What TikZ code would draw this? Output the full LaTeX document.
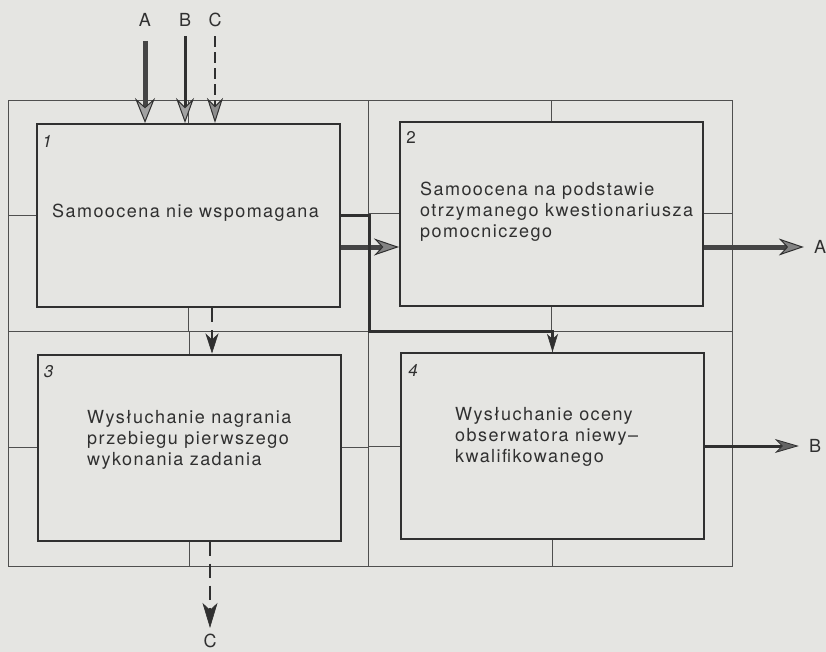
\documentclass[tikz,border=0pt]{standalone}
\usepackage{fontspec}
\setmainfont{TeX Gyre Heros}[LetterSpace=8]
\usetikzlibrary{arrows.meta}

\definecolor{paper}{RGB}{229,229,226}
\definecolor{ink}{RGB}{48,48,48}

\begin{document}
\begin{tikzpicture}[x=1pt,y=-1pt,
  frame/.style={draw=ink!85, line width=1pt},
  stepbox/.style={draw=ink, line width=2pt, minimum width=303pt,
    minimum height=183pt, inner sep=0pt},
  body/.style={align=left, anchor=west, text=ink, inner sep=0pt,
    font=\fontsize{18}{21}\selectfont},
  num/.style={text=ink, inner sep=0pt, font=\fontsize{17}{17}\selectfont},
  lbl/.style={text=ink, inner sep=2pt, font=\fontsize{18}{18}\selectfont},
  heavy/.style={line width=5pt, draw=ink!90,
    -{Stealth[length=25pt, width=17pt, inset=8pt, line width=1pt, color=ink, fill=ink!60]}},
  medium/.style={line width=3pt, draw=ink,
    -{Stealth[length=24pt, width=14pt, inset=7pt, line width=0.8pt, color=ink, fill=ink!75]}},
  dflow/.style={line width=2.5pt, draw=ink, dash pattern=on 14pt off 8pt,
    -{Stealth[length=20pt, width=13pt, inset=6pt, line width=0.6pt, color=ink, fill=ink]}},
]
% sheet
\fill[paper] (0,0) rectangle (826,652);
\useasboundingbox (0,0) rectangle (826,652);

% outer 2x2 frame: left/middle/right columns, top/middle/bottom rows
\coordinate (fL) at (8,101);
\coordinate (fM) at (368,331);
\coordinate (fR) at (732,566);
\draw[frame] (fL) rectangle (fR);
\draw[frame] (fM |- fL) -- (fM |- fR);
\draw[frame] (fL |- fM) -- (fR |- fM);

% the four steps
\node[stepbox] (b1) at (188.5,215.5) {};
\node[stepbox] (b2) at (551.5,214) {};
\node[stepbox, minimum height=186pt] (b3) at (189,447.5) {};
\node[stepbox, minimum height=186pt] (b4) at (552.5,446) {};

% ties from each box to its cell
\draw[frame] (b1.west) -- (b1.west -| fL)  (b1.north) -- (b1.north |- fL)
             (b1.east) -- (b1.east -| fM)  (b1.south) -- (b1.south |- fM);
\draw[frame] (b2.west) -- (b2.west -| fM)  (b2.north) -- (b2.north |- fL)
             (b2.east) -- (b2.east -| fR)  (b2.south) -- (b2.south |- fM);
\draw[frame] (b3.west) -- (b3.west -| fL)  (b3.north) -- (b3.north |- fM)
             (b3.east) -- (b3.east -| fM)  (b3.south) -- (b3.south |- fR);
\draw[frame] (b4.west) -- (b4.west -| fM)  (b4.north) -- (b4.north |- fM)
             (b4.east) -- (b4.east -| fR)  (b4.south) -- (b4.south |- fR);

% step numbers
\node[num] (n1) at ([xshift=11pt,yshift=-18pt]b1.north west) {\itshape 1};
\node[num] (n2) at ([xshift=12pt,yshift=-16pt]b2.north west) {2};
\node[num] (n3) at ([xshift=12pt,yshift=-18pt]b3.north west) {\itshape 3};
\node[num] (n4) at ([xshift=13pt,yshift=-18pt]b4.north west) {\itshape 4};

% step texts
\node[body] (t1) at (52,213) {Samoocena nie\,\,wspomagana};
\node[body] (t2) at (420,212) {Samoocena na podstawie\\otrzymanego kwestionariusza\\pomocniczego};
\node[body] (t3) at (87,440) {Wysłuchanie nagrania\\przebiegu pierwszego\\wykonania zadania};
\node[body] (t4) at (455,437) {Wysłuchanie oceny\\obserwatora niewy–\\kwalifikowanego};

% inputs
\node[lbl] (inA) at (145,20) {A};
\node[lbl] (inB) at (185,20) {B};
\node[lbl] (inC) at (215,20) {C};
\draw[heavy, -{Stealth[length=25pt, width=20pt, inset=9pt, line width=1pt, color=ink, fill=ink!45]}]
  ([yshift=-12pt]inA.south) -- (inA |- b1.north);
\draw[medium, -{Stealth[length=25pt, width=18pt, inset=9pt, line width=1pt, color=ink, fill=ink!45]}]
  ([yshift=-7pt]inB.south) -- (inB |- b1.north);
\draw[dflow, dash pattern=on 11pt off 5pt,
  -{Stealth[length=25pt, width=16pt, inset=8pt, line width=1pt, color=ink, fill=ink!55]}]
  ([yshift=-7pt]inC.south) -- (inC |- b1.north);

% path A: 1 -> 2 -> out
\coordinate (rowA) at (0,247);
\node[lbl] (outA) at (820,247) {A};
\draw[heavy] (b1.east |- rowA) -- (b2.west |- rowA);
\draw[heavy] (b2.east |- rowA) -- ([xshift=-8pt]outA.west);

% path B: 1 -> 4 -> out
\coordinate (jB) at (369,331);
\node[lbl] (outB) at (815,446) {B};
\draw[medium, -{Stealth[length=18pt, width=11pt, inset=5pt, line width=0.6pt, color=ink, fill=ink]}]
  (b1.east) -| (jB) -| (b4.north);
\draw[medium] (b4.east) -- ([xshift=-8pt]outB.west);

% path C: 1 -> 3 -> out
\coordinate (colC) at (212,0);
\node[lbl] (outC) at (210,641) {C};
\draw[dflow] (b1.south -| colC) -- (b3.north -| colC);
\draw[dflow, -{Stealth[length=25pt, width=15pt, inset=7pt, line width=0.6pt, color=ink, fill=ink]}]
  (b3.south -| outC) -- ([yshift=4pt]outC.north);
\end{tikzpicture}
\end{document}
